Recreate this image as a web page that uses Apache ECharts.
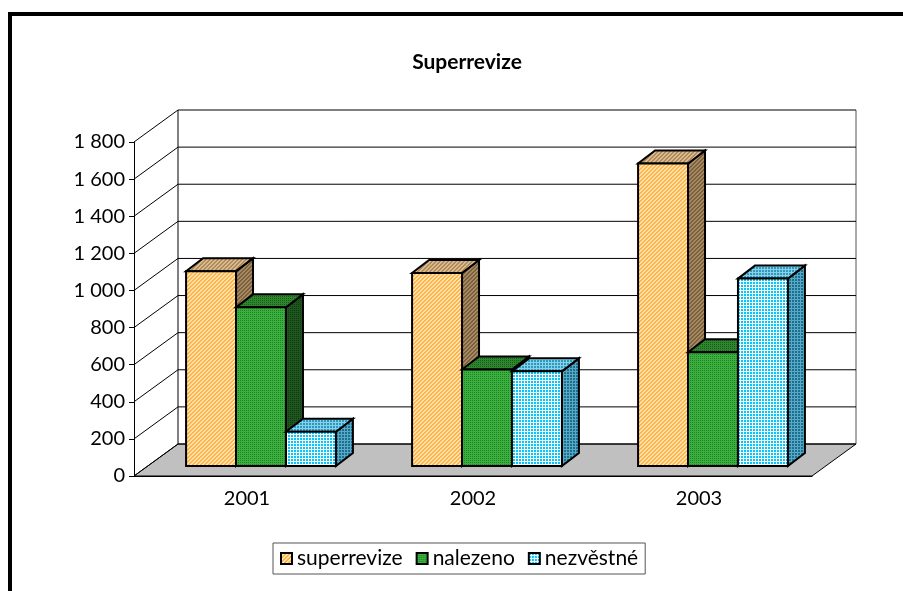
<!DOCTYPE html>
<html>
<meta charset="UTF-8">
<title>Superrevize</title>
<style type="text/css">
    html,
    body {
        margin: 0px;
        height: 100%;
        width: 100%;
        background: #fff;
    }

    #chart {
        width: 903px;
        height: 591px;
    }
</style>
<script src="https://cdn.jsdelivr.net/npm/echarts@6/dist/echarts.min.js"></script>

<body>
    <div id="chart"></div>
    <script>
        // data
        const years = ['2001', '2002', '2003'];
        const names = ['superrevize', 'nalezeno', 'nezvěstné'];
        const superrevize = [1050, 1040, 1630];
        const nalezeno = [855, 520, 613];
        const nezvestne = [185, 510, 1010];
        const yTicks = [0, 200, 400, 600, 800, 1000, 1200, 1400, 1600, 1800];

        const FONT = 'Lato';
        // wall depth and bar depth (pixels)
        const WALL_DX = 44, WALL_DY = -32;
        const BAR_FX = 14, BAR_FY = -10;
        const BAR_DX = 17, BAR_DY = -13;

        function pattern(size, fn) {
            const c = document.createElement('canvas');
            c.width = size; c.height = size;
            const ctx = c.getContext('2d');
            for (let y = 0; y < size; y++) {
                for (let x = 0; x < size; x++) {
                    ctx.fillStyle = fn(x, y);
                    ctx.fillRect(x, y, 1, 1);
                }
            }
            return { image: c, repeat: 'repeat' };
        }
        const hatch = (a, b) => pattern(4, (x, y) => ((x + y) % 4 < 2 ? a : b));
        const dots = (a, b) => pattern(2, (x, y) => (x === 0 && y === 0 ? b : a));
        const grid = (a, b) => pattern(3, (x, y) => (x === 2 || y === 2 ? b : a));

        const fills = [
            { front: hatch('#ffb445', '#ffe2b0'), top: hatch('#b08a5a', '#d8bc90'), side: hatch('#7a6040', '#a88a60') },
            { front: dots('#3cb03c', '#22802a'), top: dots('#2e862e', '#1a5a1a'), side: dots('#1f561f', '#123812') },
            { front: grid('#00c8ff', '#ffffff'), top: grid('#2a9ac0', '#8ad0e8'), side: grid('#1a7090', '#5aa8c4') }
        ];
        const values = [superrevize, nalezeno, nezvestne];

        const chart = echarts.init(document.getElementById('chart'));

        function floorItem(params, api) {
            const cs = params.coordSys;
            const x0 = cs.x, x1 = cs.x + cs.width;
            const yb = api.coord([0, 0])[1];
            const yt = api.coord([0, yTicks[yTicks.length - 1]])[1];
            return {
                type: 'group',
                children: [
                    {
                        type: 'polygon',
                        shape: { points: [[x0, yb], [x1, yb], [x1 + WALL_DX, yb + WALL_DY], [x0 + WALL_DX, yb + WALL_DY]] },
                        style: { fill: '#c0c0c0', stroke: '#000', lineWidth: 1 }
                    },
                    {
                        type: 'line',
                        shape: { x1: x0 + WALL_DX, y1: yt + WALL_DY, x2: x0 + WALL_DX, y2: yb + WALL_DY },
                        style: { stroke: '#000', lineWidth: 1 }
                    },
                    {
                        type: 'line',
                        shape: { x1: x1 + WALL_DX, y1: yt + WALL_DY, x2: x1 + WALL_DX, y2: yb + WALL_DY },
                        style: { stroke: '#555', lineWidth: 1 }
                    }
                ]
            };
        }

        function wallItem(params, api) {
            const cs = params.coordSys;
            const x0 = cs.x, x1 = cs.x + cs.width;
            const y = api.coord([0, api.value(1)])[1];
            return {
                type: 'group',
                children: [
                    {
                        type: 'line',
                        shape: { x1: x0, y1: y, x2: x0 + WALL_DX, y2: y + WALL_DY },
                        style: { stroke: '#000', lineWidth: 1 }
                    },
                    {
                        type: 'line',
                        shape: { x1: x0 + WALL_DX, y1: y + WALL_DY, x2: x1 + WALL_DX, y2: y + WALL_DY },
                        style: { stroke: '#000', lineWidth: 1 }
                    }
                ]
            };
        }

        function barRenderer(si) {
            return function (params, api) {
                const cat = api.value(0);
                const top = api.coord([cat, api.value(1)]);
                const base = api.coord([cat, 0]);
                const band = api.size([1, 0])[0];
                const w = band * 0.221;
                const x = top[0] - 1.5 * w + si * w + BAR_FX;
                const yt = top[1] + BAR_FY;
                const yb = base[1] + BAR_FY;
                const f = fills[si];
                const st = { stroke: '#000', lineWidth: 2, lineJoin: 'miter' };
                return {
                    type: 'group',
                    children: [
                        {
                            type: 'polygon',
                            shape: { points: [[x + w, yt], [x + w + BAR_DX, yt + BAR_DY], [x + w + BAR_DX, yb + BAR_DY], [x + w, yb]] },
                            style: Object.assign({ fill: f.side }, st)
                        },
                        {
                            type: 'polygon',
                            shape: { points: [[x, yt], [x + w, yt], [x + w + BAR_DX, yt + BAR_DY], [x + BAR_DX, yt + BAR_DY]] },
                            style: Object.assign({ fill: f.top }, st)
                        },
                        {
                            type: 'rect',
                            shape: { x: x, y: yt, width: w, height: yb - yt },
                            style: Object.assign({ fill: f.front }, st)
                        }
                    ]
                };
            };
        }

        const barSeries = names.map((n, si) => ({
            name: n,
            type: 'custom',
            renderItem: barRenderer(si),
            itemStyle: { color: fills[si].front, borderColor: '#000', borderWidth: 2 },
            data: values[si].map((v, i) => [i, v]),
            silent: true
        }));

        const option = {
            animation: false,
            backgroundColor: '#fff',
            textStyle: { fontFamily: FONT },
            graphic: [{
                type: 'rect',
                shape: { x: 10, y: 14, width: 1000, height: 1000 },
                style: { fill: 'none', stroke: '#000', lineWidth: 4 },
                z: -10
            }],
            title: {
                text: 'Superrevize',
                left: 462,
                textAlign: 'center',
                top: 47,
                textStyle: { fontFamily: FONT, fontSize: 21, fontWeight: 'bold', color: '#000' }
            },
            legend: {
                left: 273,
                top: 543,
                padding: [5, 7],
                itemGap: 13,
                itemWidth: 11,
                itemHeight: 11,
                icon: 'rect',
                borderColor: '#555',
                borderWidth: 1,
                textStyle: { fontFamily: FONT, fontSize: 21, color: '#000' },
                data: names.map((n, si) => ({
                    name: n,
                    itemStyle: { color: fills[si].front, borderColor: '#000', borderWidth: 2 }
                }))
            },
            grid: { left: 134, right: 91, top: 142, bottom: 115 },
            xAxis: {
                type: 'category',
                data: years,
                boundaryGap: true,
                axisLine: { lineStyle: { color: '#000', width: 1 } },
                axisTick: { length: 6, lineStyle: { color: '#000' } },
                axisLabel: { margin: 13, fontFamily: FONT, fontSize: 20, color: '#000' },
                splitLine: { show: false }
            },
            yAxis: {
                type: 'value',
                min: 0,
                max: 1800,
                interval: 200,
                axisLine: { show: true, lineStyle: { color: '#000', width: 1 } },
                axisTick: { show: true, length: 5, lineStyle: { color: '#000' } },
                axisLabel: {
                    margin: 9,
                    fontFamily: FONT,
                    fontSize: 20,
                    color: '#000',
                    formatter: v => String(v).replace(/\B(?=(\d{3})+(?!\d))/g, ' ')
                },
                splitLine: { show: false }
            },
            series: [
                {
                    type: 'custom',
                    renderItem: floorItem,
                    data: [[0, 0]],
                    silent: true,
                    z: 1
                },
                {
                    type: 'custom',
                    renderItem: wallItem,
                    data: yTicks.map(v => [0, v]),
                    silent: true,
                    z: 1
                }
            ].concat(barSeries)
        };
        chart.setOption(option);
    </script>
</body>

</html>
